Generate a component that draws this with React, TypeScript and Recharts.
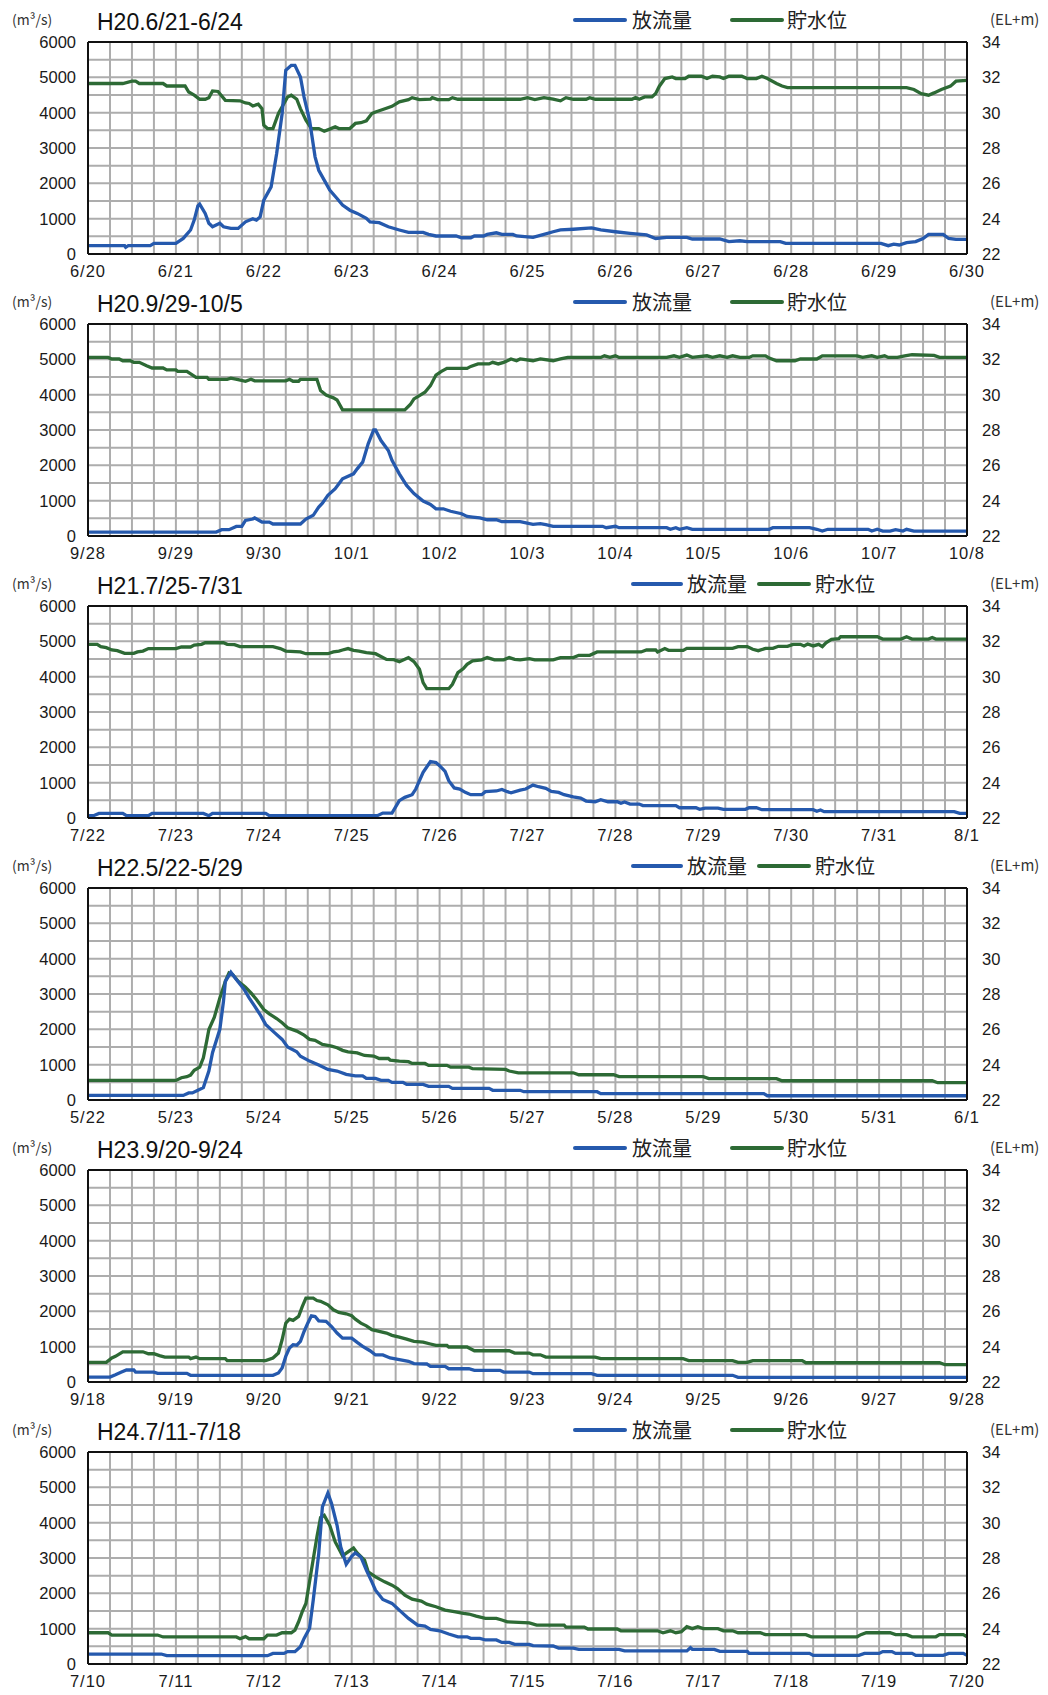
import React from "react";
import { CartesianGrid, Line, LineChart, ReferenceLine, XAxis, YAxis } from "recharts";

// [hour from start of window, value]; flow in m3/s, level in EL+m
const p1Flow: [number, number][] = [
  [0, 235], [10, 235], [10.3, 190], [11, 235], [17, 235], [18, 300], [24, 300], [26, 440], [28, 680], [29, 960],
  [30, 1360], [30.5, 1410], [32, 1150], [33, 870], [34, 770], [36, 870], [37, 770], [39, 725], [41, 725], [43, 910],
  [45, 1000], [46, 960], [47, 1050], [48, 1525], [50, 1900], [51.5, 2840], [53, 3970], [54, 5200], [55.5, 5340],
  [56.5, 5340], [58, 5010], [59, 4440], [60.5, 3785], [62, 2750], [63, 2370], [64.5, 2090], [66, 1810], [68, 1570],
  [69.5, 1385], [71.5, 1240], [73.5, 1150], [76, 1010], [77, 910], [79.5, 885], [82, 770], [85, 680], [87.5, 610],
  [91.5, 610], [93, 555], [95, 510], [100.5, 510], [102, 460], [104.5, 460], [105.5, 510], [108, 510], [109, 555],
  [111.5, 600], [113, 555], [116, 555], [117, 510], [121.5, 470], [124, 540], [127, 630], [129, 680], [132.5, 700],
  [137.5, 740], [140, 680], [144, 630], [148, 585], [152.5, 540], [155, 440], [158, 470], [163.5, 470], [165, 425],
  [172.5, 425], [175, 350], [178, 375], [180, 350], [189, 350], [190.5, 300], [216.5, 300], [218.5, 235], [220, 280],
  [221.5, 255], [223.5, 320], [226, 350], [228, 440], [229.5, 555], [233.5, 555], [235, 440], [237, 415], [240, 415],
];
const p1Level: [number, number][] = [
  [0, 31.65], [9.5, 31.65], [12, 31.78], [13, 31.78], [14, 31.65], [20.5, 31.65], [21.5, 31.51], [26.5, 31.51],
  [27.5, 31.17], [29, 30.99], [30.5, 30.76], [32, 30.76], [33, 30.85], [34, 31.23], [35.5, 31.2], [37.5, 30.7],
  [41.5, 30.67], [43, 30.55], [44, 30.52], [45, 30.38], [46.5, 30.48], [47.5, 30.23], [48, 29.29], [49, 29.1],
  [50.5, 29.1], [52, 29.95], [53.5, 30.52], [54.5, 30.89], [55.5, 30.99], [57, 30.76], [58, 30.23], [59.5, 29.57],
  [61, 29.1], [63, 29.1], [64.5, 28.95], [66, 29.07], [67.5, 29.2], [68.5, 29.1], [71.5, 29.1], [73, 29.39],
  [74.5, 29.43], [76, 29.54], [77.5, 29.95], [78.5, 30.04], [80.5, 30.18], [83, 30.36], [85, 30.61], [87.5, 30.74],
  [88.5, 30.85], [90.5, 30.74], [93.5, 30.76], [94, 30.85], [95.5, 30.74], [98.5, 30.74], [99.5, 30.85],
  [101, 30.76], [118, 30.76], [120, 30.85], [122, 30.74], [124.5, 30.85], [127, 30.76], [129, 30.67], [130.5, 30.85],
  [132.5, 30.76], [136, 30.76], [137, 30.85], [138.5, 30.76], [148.5, 30.76], [149.5, 30.85], [150.5, 30.76],
  [152, 30.89], [154, 30.89], [155, 31.08], [156, 31.5], [157.5, 31.93], [159.5, 32.02], [160.5, 31.93], [163, 31.93],
  [164, 32.06], [167.5, 32.06], [169, 31.93], [170.5, 32.06], [172.5, 32.02], [173.5, 31.93], [175, 32.06],
  [178.5, 32.06], [180, 31.93], [182.5, 31.93], [184, 32.06], [185.5, 31.93], [188, 31.65], [189.5, 31.51],
  [191, 31.42], [223.5, 31.42], [225.5, 31.31], [227.5, 31.08], [229.5, 30.99], [231, 31.12], [233, 31.31],
  [235.5, 31.5], [237, 31.78], [240, 31.83],
];

const p2Flow: [number, number][] = [
  [0, 110], [35, 110], [36.5, 180], [38.5, 180], [40.5, 270], [42, 270], [43, 440], [45, 480], [45.5, 510], [47.5, 395],
  [49.5, 395], [50.5, 340], [58, 340], [59.5, 480], [61.5, 585], [63, 820], [64, 930], [65.5, 1150], [67.5, 1340],
  [68.5, 1480], [69.5, 1620], [72.5, 1760], [73.5, 1900], [75, 2090], [76.5, 2610], [78, 3000], [78.5, 3000],
  [80, 2700], [82, 2420], [83, 2140], [85, 1760], [87, 1430], [89, 1200], [91.5, 990], [93.5, 895], [95, 770],
  [97, 770], [99, 700], [102, 630], [103.5, 555], [105, 535], [107, 510], [109, 460], [111.5, 460], [113, 405],
  [118, 405], [121.5, 330], [123.5, 350], [125, 320], [127, 275], [140.5, 275], [141.5, 235], [144, 275], [145, 235],
  [158, 235], [159, 190], [160.5, 235], [161.5, 190], [163.5, 235], [165, 190], [186, 190], [187, 235], [197, 235],
  [199, 190], [200.5, 140], [202, 190], [213, 190], [214, 140], [215.5, 190], [217, 140], [219, 140], [220.5, 180],
  [222.5, 140], [223.5, 190], [225.5, 140], [240, 140],
];
const p2Level: [number, number][] = [
  [0, 32.11], [5.5, 32.11], [6.5, 32.02], [8.5, 32.02], [9.5, 31.92], [11.5, 31.92], [12.5, 31.83], [14, 31.83],
  [16, 31.64], [17.5, 31.51], [20.5, 31.51], [21.5, 31.4], [24, 31.4], [24.5, 31.32], [27, 31.32], [29.5, 30.98],
  [32.5, 30.98], [33, 30.87], [38, 30.87], [39, 30.93], [41, 30.85], [43, 30.76], [44.5, 30.87], [45.5, 30.78],
  [54, 30.78], [55, 30.87], [56, 30.76], [57.5, 30.76], [58, 30.87], [62.5, 30.87], [63.5, 30.23], [65, 29.98],
  [67, 29.82], [68, 29.7], [69.5, 29.14], [86.5, 29.14], [88, 29.44], [89, 29.76], [90.5, 29.95], [92, 30.14],
  [93.5, 30.51], [95, 31.11], [96.5, 31.32], [98, 31.49], [103.5, 31.49], [104.5, 31.6], [106.5, 31.74],
  [109.5, 31.74], [110.5, 31.83], [112, 31.74], [113.5, 31.83], [114.5, 31.92], [115.5, 32.02], [117, 31.92],
  [118, 32.02], [121.5, 31.92], [123.5, 32.02], [127, 31.92], [129, 32.02], [131, 32.11], [140, 32.11], [141, 32.2],
  [142.5, 32.11], [144, 32.2], [145, 32.11], [158, 32.11], [160, 32.2], [161.5, 32.11], [163.5, 32.24], [165, 32.11],
  [169, 32.2], [170.5, 32.11], [172.5, 32.2], [174.5, 32.11], [176, 32.2], [178, 32.11], [180.5, 32.11],
  [181.5, 32.2], [185, 32.2], [186, 32.07], [188, 31.92], [193, 31.92], [194.5, 32.02], [199, 32.02], [200.5, 32.2],
  [210, 32.2], [211.5, 32.11], [214, 32.2], [215.5, 32.11], [217.5, 32.2], [218.5, 32.11], [221, 32.11],
  [223, 32.2], [225, 32.26], [231, 32.22], [232.5, 32.11], [240, 32.11],
];

const p3Flow: [number, number][] = [
  [0, 65], [1.5, 65], [3, 130], [9.5, 130], [10.5, 65], [16.5, 65], [17.5, 130], [31.5, 130], [33, 65], [34, 130],
  [48.5, 130], [49.5, 65], [79, 65], [80.5, 140], [83, 140], [85, 490], [86.5, 585], [88.5, 660], [89.5, 820],
  [91.5, 1290], [93.5, 1600], [95, 1570], [96, 1480], [97.5, 1320], [98.5, 1055], [100, 850], [101.5, 820],
  [103, 725], [104.5, 660], [107.5, 660], [108.5, 745], [111.5, 765], [113, 810], [114.5, 745], [115.5, 715],
  [118, 790], [119.5, 820], [121.5, 930], [123, 885], [125, 840], [126.5, 755], [128.5, 725], [130, 660],
  [132.5, 600], [134.5, 565], [136, 480], [138.5, 460], [140, 520], [142, 460], [144.5, 460], [145.5, 415],
  [146.5, 455], [148, 395], [150.5, 395], [151.5, 350], [160.5, 350], [161.5, 290], [166, 290], [167, 245],
  [168.5, 280], [172, 280], [173.5, 245], [179.5, 245], [180.5, 290], [182.5, 290], [184, 235], [198, 235],
  [199, 190], [200, 225], [201, 180], [236.5, 180], [238, 130], [240, 130],
];
const p3Level: [number, number][] = [
  [0, 31.83], [2.5, 31.83], [3.5, 31.7], [5, 31.64], [6.5, 31.51], [8, 31.47], [10, 31.32], [12.5, 31.32],
  [13.5, 31.4], [15, 31.45], [16.5, 31.59], [24, 31.59], [25.5, 31.68], [28, 31.68], [29, 31.79], [31, 31.83],
  [32, 31.92], [37, 31.92], [38, 31.83], [40, 31.81], [41.5, 31.7], [50.5, 31.7], [52.5, 31.59], [54, 31.45],
  [58, 31.4], [59.5, 31.3], [65.5, 31.3], [67, 31.4], [68.5, 31.45], [69.5, 31.51], [71, 31.59], [72.5, 31.49],
  [74, 31.45], [76, 31.36], [78.5, 31.3], [81.5, 30.98], [83.5, 30.96], [85, 30.85], [86.5, 30.98], [87.5, 31.08],
  [89, 30.85], [90.5, 30.42], [91.5, 29.66], [92.5, 29.32], [98.5, 29.32], [99.5, 29.57], [101, 30.23],
  [102.5, 30.46], [103.5, 30.7], [105, 30.89], [107.5, 30.95], [109, 31.08], [111, 30.95], [113.5, 30.95],
  [115, 31.08], [116.5, 30.98], [118, 30.95], [120.5, 31.02], [122, 30.95], [127, 30.95], [129, 31.08],
  [132.5, 31.08], [134, 31.21], [137, 31.21], [139, 31.4], [151, 31.4], [152.5, 31.51], [155, 31.51], [155.5, 31.4],
  [157.5, 31.59], [158.5, 31.49], [162.5, 31.49], [163.5, 31.6], [176, 31.6], [177.5, 31.7], [180, 31.7],
  [181.5, 31.55], [183, 31.47], [185, 31.6], [187, 31.6], [188.5, 31.72], [191, 31.72], [192.5, 31.83],
  [194.5, 31.83], [195.5, 31.74], [196.5, 31.85], [198, 31.74], [199.5, 31.83], [200.5, 31.7], [201.5, 31.92],
  [203, 32.11], [205, 32.15], [205.5, 32.26], [215.5, 32.26], [217, 32.13], [222, 32.13], [223.5, 32.26],
  [225, 32.13], [229.5, 32.13], [230.5, 32.22], [231.5, 32.13], [240, 32.13],
];

const p4Flow: [number, number][] = [
  [0, 130], [26, 130], [27.5, 200], [28.5, 200], [30, 275], [31.5, 350], [33, 820], [34, 1340], [36, 2000],
  [37, 2800], [37.5, 3360], [39, 3615], [40.5, 3410], [42.5, 3150], [44, 2890], [45.5, 2655], [47, 2420],
  [48.5, 2140], [51, 1900], [53, 1715], [54.5, 1500], [57, 1365], [58, 1240], [60.5, 1100], [63, 990], [65.5, 865],
  [68, 820], [70.5, 725], [73, 680], [75, 680], [76, 610], [78.5, 610], [80, 555], [82, 555], [83, 500], [86, 500],
  [87, 440], [91.5, 440], [93, 385], [98.5, 385], [99.5, 330], [109.5, 330], [110.5, 275], [118, 275], [119, 235],
  [139, 235], [140, 180], [184.5, 180], [185.5, 120], [240, 120],
];
const p4Level: [number, number][] = [
  [0, 23.11], [24, 23.11], [25.5, 23.26], [27, 23.32], [28, 23.41], [29, 23.68], [30.5, 23.86], [31.5, 24.39],
  [32.5, 25.43], [33, 25.99], [34.5, 26.69], [36, 27.78], [37.5, 28.72], [38.5, 29.19], [39.5, 29.1], [41, 28.72],
  [43, 28.38], [44.5, 28.06], [46, 27.69], [48, 27.12], [49.5, 26.88], [51.5, 26.61], [53, 26.37], [54.5, 26.09],
  [57, 25.9], [59, 25.67], [60.5, 25.43], [62, 25.38], [64, 25.15], [66.5, 25.05], [68, 24.96], [69.5, 24.81],
  [71, 24.73], [73.5, 24.67], [75.5, 24.52], [78, 24.49], [79.5, 24.35], [82, 24.35], [82.5, 24.26], [85, 24.2],
  [87.5, 24.17], [88.5, 24.07], [92, 24.07], [93, 23.96], [98, 23.96], [99, 23.86], [104, 23.86], [105, 23.77],
  [114, 23.73], [115, 23.64], [117.5, 23.54], [132.5, 23.54], [134, 23.43], [143.5, 23.43], [145, 23.32],
  [168, 23.32], [169.5, 23.21], [188, 23.21], [189.5, 23.09], [230.5, 23.09], [232, 22.98], [240, 22.98],
];

const p5Flow: [number, number][] = [
  [0, 140], [6, 140], [7.5, 205], [9, 275], [10.5, 340], [12.5, 340], [13, 280], [18, 280], [19, 245], [27, 245],
  [28, 190], [50.5, 190], [52, 255], [53, 395], [54, 725], [55, 960], [56, 1055], [57, 1040], [58, 1150],
  [59, 1430], [60, 1665], [61, 1875], [62, 1855], [63, 1730], [65, 1715], [66.5, 1570], [68, 1385], [69.5, 1240],
  [72, 1240], [73.5, 1120], [75, 1010], [77, 885], [78.5, 765], [80.5, 765], [82.5, 680], [85, 630], [87.5, 585],
  [89, 520], [92.5, 510], [93.5, 440], [97.5, 440], [98.5, 375], [104, 375], [105.5, 330], [112.5, 330],
  [113.5, 280], [120.5, 280], [121.5, 235], [137.5, 235], [139, 190], [176, 190], [177.5, 130], [240, 130],
];
const p5Level: [number, number][] = [
  [0, 23.11], [5, 23.11], [6.5, 23.36], [7.5, 23.45], [9.5, 23.71], [15, 23.71], [16.5, 23.6], [18, 23.6],
  [19.5, 23.49], [21, 23.41], [27.5, 23.41], [28, 23.32], [29.5, 23.41], [30.5, 23.32], [37.5, 23.32], [38, 23.21],
  [48.5, 23.21], [50.5, 23.36], [52, 23.64], [53, 24.39], [54, 25.33], [55, 25.56], [56, 25.49], [57.5, 25.71],
  [58.5, 26.27], [59.5, 26.75], [61.5, 26.75], [62.5, 26.61], [63.5, 26.57], [65.5, 26.37], [67, 26.09],
  [68.5, 25.94], [70.5, 25.86], [72, 25.75], [73, 25.56], [74.5, 25.33], [76, 25.18], [77.5, 24.96], [79.5, 24.86],
  [81.5, 24.77], [83, 24.64], [85, 24.54], [87, 24.43], [89, 24.3], [91.5, 24.26], [93.5, 24.15], [95, 24.07],
  [98, 24.07], [98.5, 23.98], [103.5, 23.98], [105.5, 23.77], [115, 23.77], [116.5, 23.64], [120.5, 23.64],
  [121.5, 23.54], [123.5, 23.54], [125, 23.41], [138.5, 23.41], [140, 23.32], [162.5, 23.32], [164, 23.21],
  [176, 23.21], [177.5, 23.11], [180, 23.11], [181.5, 23.21], [195, 23.21], [196, 23.09], [232.5, 23.09],
  [234, 22.98], [240, 22.98],
];

const p6Flow: [number, number][] = [
  [0, 282], [20, 282], [21.5, 235], [49, 235], [50.5, 300], [53.5, 300], [54.5, 350], [56.5, 350], [58, 490],
  [59, 725], [60.5, 1010], [61.5, 1810], [63, 3125], [64, 4445], [65.5, 4840], [66.5, 4540], [68, 3925],
  [69, 3315], [70.5, 2825], [72, 3050], [73, 3145], [74.5, 3030], [76, 2655], [77.5, 2325], [78.5, 2090],
  [80.5, 1825], [83, 1715], [85, 1525], [87.5, 1290], [90, 1100], [92, 1075], [93.5, 980], [96, 940], [98.5, 850],
  [101, 770], [103.5, 770], [104.5, 725], [107, 725], [108.5, 680], [111.5, 680], [113, 610], [115, 610],
  [116.5, 555], [120.5, 555], [121.5, 520], [127, 510], [128.5, 450], [132.5, 450], [134, 415], [145, 415],
  [146.5, 370], [163.5, 370], [164.5, 460], [165, 415], [171, 415], [172.5, 360], [180, 360], [180.5, 300],
  [197, 300], [198, 245], [210.5, 245], [212, 300], [216, 300], [217, 350], [219.5, 350], [220.5, 300], [225, 300],
  [226, 245], [233.5, 245], [235, 300], [239, 300], [240, 245],
];
const p6Level: [number, number][] = [
  [0, 23.77], [5.5, 23.77], [6.5, 23.64], [19, 23.64], [20.5, 23.53], [40.5, 23.53], [41.5, 23.43], [43, 23.55],
  [44, 23.43], [48, 23.43], [49, 23.64], [51.5, 23.64], [53, 23.77], [55.5, 23.77], [56.5, 23.92], [57.5, 24.39],
  [58.5, 24.96], [59.5, 25.43], [61, 27.31], [62.5, 29.19], [63.5, 30.29], [64.5, 30.42], [66, 29.85],
  [67.5, 28.91], [68.5, 28.53], [69.5, 28.12], [71, 28.35], [72.5, 28.57], [73.5, 28.29], [75.5, 27.88],
  [76.5, 27.22], [78.5, 26.93], [81, 26.65], [83, 26.46], [84.5, 26.27], [86.5, 25.9], [88.5, 25.67], [91, 25.56],
  [92.5, 25.39], [95, 25.24], [97.5, 25.05], [100, 24.96], [102.5, 24.86], [104, 24.83], [106, 24.71],
  [108.5, 24.58], [111.5, 24.58], [113, 24.49], [114.5, 24.39], [120.5, 24.33], [122.5, 24.2], [130, 24.2],
  [130.5, 24.09], [135.5, 24.09], [136.5, 23.98], [144.5, 23.98], [145.5, 23.88], [155.5, 23.88], [157, 23.77],
  [159, 23.88], [160.5, 23.77], [162, 23.83], [163.5, 24.11], [165, 24.0], [166.5, 24.11], [168, 24.0], [172, 24.0],
  [173.5, 23.88], [176, 23.88], [177.5, 23.77], [183.5, 23.77], [185, 23.66], [196, 23.66], [197.5, 23.54],
  [210, 23.54], [211, 23.66], [212.5, 23.77], [219, 23.77], [220.5, 23.66], [223.5, 23.66], [225, 23.54],
  [231.5, 23.54], [232.5, 23.66], [239, 23.66], [240, 23.54],
];

const titles = ["H20.6/21-6/24", "H20.9/29-10/5", "H21.7/25-7/31", "H22.5/22-5/29", "H23.9/20-9/24", "H24.7/11-7/18"];
const dayLabels = [
  ["6/20", "6/21", "6/22", "6/23", "6/24", "6/25", "6/26", "6/27", "6/28", "6/29", "6/30"],
  ["9/28", "9/29", "9/30", "10/1", "10/2", "10/3", "10/4", "10/5", "10/6", "10/7", "10/8"],
  ["7/22", "7/23", "7/24", "7/25", "7/26", "7/27", "7/28", "7/29", "7/30", "7/31", "8/1"],
  ["5/22", "5/23", "5/24", "5/25", "5/26", "5/27", "5/28", "5/29", "5/30", "5/31", "6/1"],
  ["9/18", "9/19", "9/20", "9/21", "9/22", "9/23", "9/24", "9/25", "9/26", "9/27", "9/28"],
  ["7/10", "7/11", "7/12", "7/13", "7/14", "7/15", "7/16", "7/17", "7/18", "7/19", "7/20"],
];
const flows = [p1Flow, p2Flow, p3Flow, p4Flow, p5Flow, p6Flow];
const levels = [p1Level, p2Level, p3Level, p4Level, p5Level, p6Level];
const flowTicks = [0, 500, 1000, 1500, 2000, 2500, 3000, 3500, 4000, 4500, 5000, 5500, 6000];
const levelTicks = [22, 23, 24, 25, 26, 27, 28, 29, 30, 31, 32, 33, 34];
const hourTicks = Array.from({ length: 41 }, (_, i) => i * 6);

const BLUE = "#2559ad";
const GREEN = "#2d6a35";
const W = 1048;
const H = 282;

// legend x positions: blue line, blue text, green line, green text
const wideLegend = [575, 625, 632, 732, 782, 787];
const tightLegend = [633, 681, 687, 759, 809, 815];

const toRows = (pts: [number, number][]) => pts.map(([h, v]) => ({ h, v }));

function Panel({ idx }: { idx: number }) {
  const labels = dayLabels[idx];
  const lg = idx === 2 || idx === 3 ? tightLegend : wideLegend;
  const tickFont = { fontFamily: "'Liberation Sans', Arial, sans-serif", fontSize: 16.5, fill: "#1a1a1a" };
  return (
    <div style={{ position: "relative", width: W, height: H }}>
      <LineChart width={W} height={H} margin={{ top: 42, right: 21, bottom: 8, left: 28 }}>
        <CartesianGrid yAxisId="left" stroke="#adadad" strokeWidth={2} />
        <XAxis
          type="number"
          dataKey="h"
          domain={[0, 240]}
          ticks={hourTicks}
          interval={0}
          height={20}
          tickLine={false}
          tickSize={6}
          tickMargin={5}
          axisLine={{ stroke: "#111", strokeWidth: 2 }}
          tick={{ ...tickFont, letterSpacing: 1 }}
          tickFormatter={(h: number) => (h % 24 === 0 ? labels[h / 24] : "")}
        />
        <YAxis
          yAxisId="left"
          width={60}
          domain={[0, 6000]}
          ticks={flowTicks}
          interval={0}
          tickLine={false}
          tickSize={6}
          tickMargin={6}
          axisLine={{ stroke: "#111", strokeWidth: 2 }}
          tick={tickFont}
          tickFormatter={(v: number) => (v % 1000 === 0 ? String(v) : "")}
        />
        <YAxis
          yAxisId="right"
          orientation="right"
          width={60}
          domain={[22, 34]}
          ticks={levelTicks}
          interval={0}
          tickLine={false}
          tickSize={6}
          tickMargin={9}
          axisLine={{ stroke: "#111", strokeWidth: 2 }}
          tick={tickFont}
          tickFormatter={(v: number) => (v % 2 === 0 ? String(v) : "")}
        />
        <ReferenceLine yAxisId="left" y={6000} stroke="#111" strokeWidth={2} />
        <Line
          yAxisId="right"
          data={toRows(levels[idx])}
          dataKey="v"
          type="linear"
          stroke={GREEN}
          strokeWidth={3.3}
          dot={false}
          isAnimationActive={false}
        />
        <Line
          yAxisId="left"
          data={toRows(flows[idx])}
          dataKey="v"
          type="linear"
          stroke={BLUE}
          strokeWidth={3.3}
          dot={false}
          isAnimationActive={false}
        />
      </LineChart>
      <svg width={W} height={40} style={{ position: "absolute", left: 0, top: 0, pointerEvents: "none" }}>
        <text x={12} y={25} fontSize={14} fill="#333" fontFamily="'Noto Sans CJK JP', sans-serif">
          (m³/s)
        </text>
        <text x={97} y={29.5} fontSize={23} fill="#111" fontFamily="'Liberation Sans', Arial, sans-serif">
          {titles[idx]}
        </text>
        <line x1={lg[0]} x2={lg[1]} y1={20} y2={20} stroke={BLUE} strokeWidth={4} strokeLinecap="round" />
        <text x={lg[2]} y={28} fontSize={20} fill="#222" fontFamily="'Noto Sans CJK JP', sans-serif">
          放流量
        </text>
        <line x1={lg[3]} x2={lg[4]} y1={20} y2={20} stroke={GREEN} strokeWidth={4} strokeLinecap="round" />
        <text x={lg[5]} y={28} fontSize={20} fill="#222" fontFamily="'Noto Sans CJK JP', sans-serif">
          貯水位
        </text>
        <text x={990} y={25} fontSize={15} fill="#333" fontFamily="'Noto Sans CJK JP', sans-serif">
          (EL+m)
        </text>
      </svg>
    </div>
  );
}

export default function App() {
  return (
    <div style={{ position: "absolute", left: 0, top: 0, width: W, background: "#fff" }}>
      {titles.map((_, i) => (
        <Panel key={i} idx={i} />
      ))}
    </div>
  );
}
